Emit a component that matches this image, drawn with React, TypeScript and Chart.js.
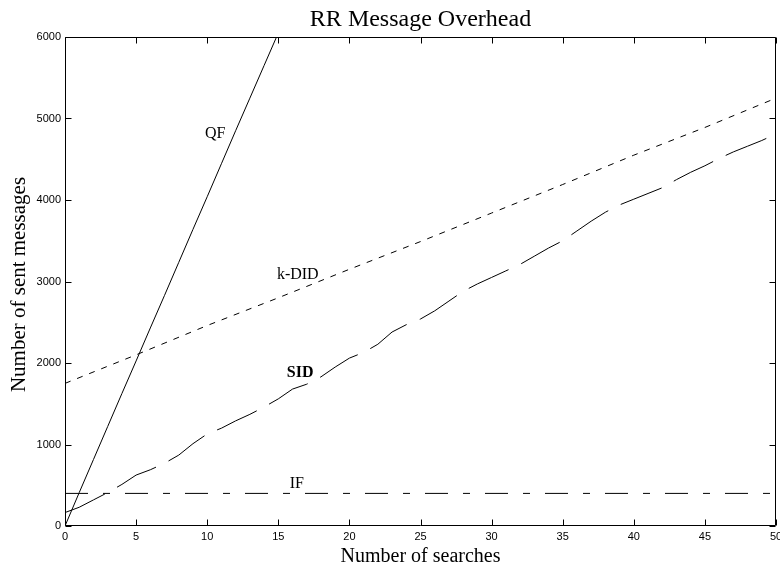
import React, { useEffect, useRef } from "react";
import { Chart, registerables } from "chart.js";

Chart.register(...registerables);

// ---- Data ----
const TITLE = "RR Message Overhead";
const X_TITLE = "Number of searches";
const Y_TITLE = "Number of sent messages";

const xTickValues = [0, 5, 10, 15, 20, 25, 30, 35, 40, 45, 50];
const yTickValues = [0, 1000, 2000, 3000, 4000, 5000, 6000];

const qfX = [0, 1, 2, 3, 4, 5, 6, 7, 8, 9, 10, 11, 12, 13, 14, 15, 16];
const qfY = [0, 410, 815, 1220, 1625, 2025, 2430, 2830, 3235, 3640, 4040, 4445, 4850, 5250, 5650, 6050, 6450];

const kdidX = [0, 5, 10, 15, 20, 25, 30, 35, 40, 45, 50];
const kdidY = [1750, 2100, 2460, 2800, 3150, 3490, 3840, 4190, 4550, 4890, 5250];

const sidX = [
  0, 1, 2, 3, 4, 5, 6, 7, 8, 9, 10, 11, 12, 13, 14, 15, 16, 17, 18, 19, 20, 21, 22, 23, 24, 25,
  26, 27, 28, 29, 30, 31, 32, 33, 34, 35, 36, 37, 38, 39, 40, 41, 42, 43, 44, 45, 46, 47, 48, 49, 50,
];
const sidY = [
  165, 230, 320, 410, 510, 625, 690, 770, 870, 1010, 1130, 1200, 1290, 1370, 1460, 1560, 1680, 1740,
  1830, 1950, 2060, 2130, 2230, 2380, 2470, 2540, 2640, 2760, 2880, 2970, 3050, 3130, 3210, 3310,
  3410, 3500, 3620, 3740, 3850, 3940, 4010, 4080, 4150, 4250, 4340, 4420, 4510, 4590, 4660, 4730, 4810,
];

const ifX = [0, 50];
const ifY = [400, 400];

const labelTexts = ["QF", "k-DID", "SID", "IF"];
const labelX = [9.85, 14.9, 15.6, 15.8];
const labelY = [4810, 3080, 1877, 515];
const labelBold = [false, false, true, false];

const toPoints = (xs: number[], ys: number[]) => xs.map((x, i) => ({ x, y: ys[i] }));

const decorPlugin = {
  id: "decor",
  afterDraw(chart: any) {
    const { ctx, chartArea, scales } = chart;
    const { left, right, top, bottom } = chartArea;
    const xs = scales.x;
    const ys = scales.y;
    ctx.save();
    ctx.strokeStyle = "#000";
    ctx.lineWidth = 1;
    ctx.setLineDash([]);
    const L = Math.round(left) + 0.5;
    const R = Math.round(right) - 0.5;
    const T = Math.round(top) + 0.5;
    const B = Math.round(bottom) - 0.5;
    ctx.beginPath();
    ctx.rect(L, T, R - L, B - T);
    ctx.stroke();
    const tl = 6;
    ctx.beginPath();
    xTickValues.forEach((v) => {
      const px = Math.round(xs.getPixelForValue(v)) + 0.5;
      ctx.moveTo(px, B);
      ctx.lineTo(px, B - tl);
      ctx.moveTo(px, T);
      ctx.lineTo(px, T + tl);
    });
    yTickValues.forEach((v) => {
      const py = Math.round(ys.getPixelForValue(v)) + 0.5;
      ctx.moveTo(L, py);
      ctx.lineTo(L + tl, py);
      ctx.moveTo(R, py);
      ctx.lineTo(R - tl, py);
    });
    ctx.stroke();

    ctx.fillStyle = "#000";
    ctx.font = '24px "Liberation Serif"';
    ctx.textAlign = "center";
    ctx.textBaseline = "alphabetic";
    ctx.fillText(TITLE, (left + right) / 2, 26);
    ctx.font = '20px "Liberation Serif"';
    ctx.fillText(X_TITLE, (left + right) / 2, 562);
    ctx.save();
    ctx.translate(24.5, (top + bottom) / 2 + 3);
    ctx.rotate(-Math.PI / 2);
    ctx.font = '21px "Liberation Serif"';
    ctx.fillText(Y_TITLE, 0, 0);
    ctx.restore();

    ctx.textAlign = "left";
    ctx.textBaseline = "middle";
    labelTexts.forEach((t, i) => {
      ctx.font = (labelBold[i] ? "bold " : "") + '16px "Liberation Serif"';
      ctx.fillText(t, xs.getPixelForValue(labelX[i]), ys.getPixelForValue(labelY[i]));
    });
    ctx.restore();
  },
};

export default function App() {
  const ref = useRef<HTMLCanvasElement | null>(null);
  useEffect(() => {
    document.body.style.margin = "0";
    const canvas = ref.current;
    if (!canvas) return;
    const common = {
      borderColor: "#000",
      borderWidth: 1,
      pointRadius: 0,
      fill: false,
      tension: 0,
    };
    const chart = new Chart(canvas, {
      type: "line",
      data: {
        datasets: [
          { ...common, label: "QF", data: toPoints(qfX, qfY), borderDash: [] },
          { ...common, label: "k-DID", data: toPoints(kdidX, kdidY), borderDash: [6, 7] },
          { ...common, label: "SID", data: toPoints(sidX, sidY), borderDash: [44, 14] },
          { ...common, label: "IF", data: toPoints(ifX, ifY), borderDash: [23, 15, 7, 15] },
        ] as any,
      },
      options: {
        animation: false,
        responsive: false,
        devicePixelRatio: 1,
        events: [],
        layout: { padding: { top: 37, right: 4, left: 0, bottom: 0 }, autoPadding: false } as any,
        plugins: {
          legend: { display: false },
          title: { display: false },
          tooltip: { enabled: false },
        },
        scales: {
          x: {
            type: "linear",
            min: 0,
            max: 50,
            afterBuildTicks: (s: any) => {
              s.ticks = xTickValues.map((v) => ({ value: v }));
            },
            afterFit: (s: any) => {
              s.height = 42;
              s.paddingLeft = 0;
              s.paddingRight = 0;
            },
            grid: { display: false, drawTicks: false },
            border: { display: false },
            ticks: {
              color: "#000",
              padding: 4,
              maxRotation: 0,
              autoSkip: false,
              font: { family: '"Liberation Sans", Arial', size: 11 },
              callback: (v: any) => String(v),
            },
          },
          y: {
            type: "linear",
            min: 0,
            max: 6000,
            afterBuildTicks: (s: any) => {
              s.ticks = yTickValues.map((v) => ({ value: v }));
            },
            afterFit: (s: any) => {
              s.width = 65;
              s.paddingTop = 0;
              s.paddingBottom = 0;
            },
            grid: { display: false, drawTicks: false },
            border: { display: false },
            ticks: {
              color: "#000",
              padding: 4,
              autoSkip: false,
              font: { family: '"Liberation Sans", Arial', size: 11 },
              callback: (v: any) => String(v),
            },
          },
        },
      },
      plugins: [decorPlugin],
    } as any);
    return () => chart.destroy();
  }, []);
  return (
    <div style={{ width: 780, height: 568, background: "#fff" }}>
      <canvas ref={ref} width={780} height={568} style={{ display: "block" }} />
    </div>
  );
}
